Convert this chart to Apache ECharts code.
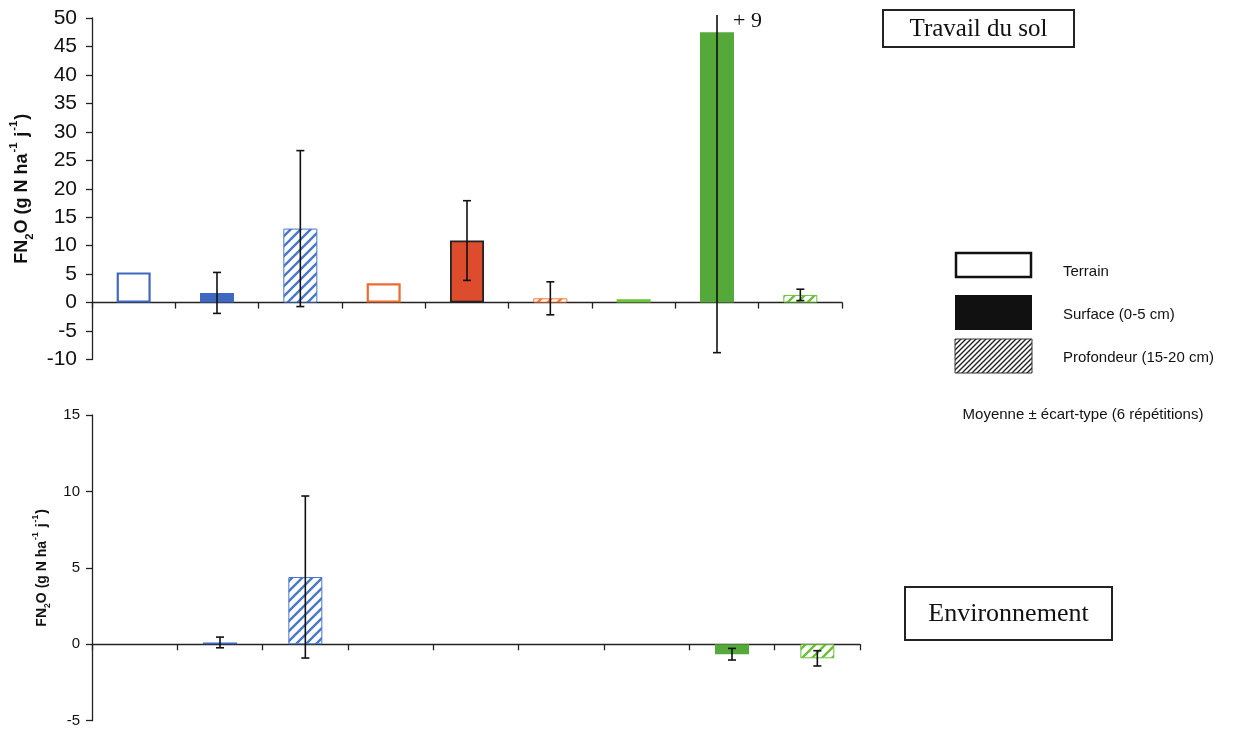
<!DOCTYPE html>
<html>
<head>
<meta charset="utf-8">
<script src="https://cdn.jsdelivr.net/npm/echarts@6/dist/echarts.min.js"></script>
<style>html,body{margin:0;padding:0;background:#fff;}#c{width:1238px;height:729px;}</style>
</head>
<body>
<div id="c"></div>
<script>
// ---- data ----
var categories = ['Terrain A', 'Surface A', 'Profondeur A', 'Terrain B', 'Surface B', 'Profondeur B', 'Terrain C', 'Surface C', 'Profondeur C'];
var topValues = [5.3, 1.7, 13.0, 3.4, 10.9, 0.75, 0.6, 47.5, 1.35];
var topSd = [null, 3.6, 13.7, null, 7.0, 2.9, null, 56.3, 1.0];
var bottomValues = [null, 0.12, 4.4, null, null, null, null, -0.65, -0.92];
var bottomSd = [null, 0.35, 5.3, null, null, null, null, 0.38, 0.5];
var topTicks = [-10, -5, 0, 5, 10, 15, 20, 25, 30, 35, 40, 45, 50];
var bottomTicks = [-5, 0, 5, 10, 15];
var kinds = ['terrain', 'surface', 'profondeur', 'terrain', 'surface', 'profondeur', 'terrain', 'surface', 'profondeur'];
var siteColors = ['#3f68c0', '#3f68c0', '#4a78c8', '#ef6a2c', '#dd4c2c', '#ef7a3a', '#6cc23a', '#55a83a', '#6cbf3a'];
var topOverflowLabel = '+ 9';

function hatch(color, size, lw) {
  var c = document.createElement('canvas');
  c.width = size; c.height = size;
  var g = c.getContext('2d');
  g.fillStyle = '#fff'; g.fillRect(0, 0, size, size);
  g.strokeStyle = color; g.lineWidth = lw; g.lineCap = 'square';
  g.beginPath();
  g.moveTo(-1, size + 1); g.lineTo(size + 1, -1);
  g.moveTo(-size / 2 - 1, size / 2 + 1); g.lineTo(size / 2 + 1, -size / 2 - 1);
  g.moveTo(size / 2 - 1, size * 1.5 + 1); g.lineTo(size * 1.5 + 1, size / 2 - 1);
  g.stroke();
  return c;
}

function styleFor(i) {
  var k = kinds[i], col = siteColors[i];
  if (k === 'terrain') return { color: '#fff', borderColor: col, borderWidth: 2.2 };
  if (k === 'surface') {
    if (i === 4) return { color: col, borderColor: '#222', borderWidth: 1.8 };
    return { color: col, borderColor: col, borderWidth: 0 };
  }
  return { color: { image: hatch(col, 10, 2.4), repeat: 'repeat' }, borderColor: col, borderWidth: 1 };
}

function barData(vals) {
  return vals.map(function (v, i) { return v == null ? '-' : { value: v, itemStyle: styleFor(i) }; });
}
function errData(vals, sds) {
  var out = [];
  vals.forEach(function (v, i) { if (v != null && sds[i] != null) out.push([i, v - sds[i], v + sds[i]]); });
  return out;
}

function makeErr(gridIdx, yMax) {
  return {
    type: 'custom', xAxisIndex: gridIdx, yAxisIndex: gridIdx, clip: false, z: 5,
    data: errData(gridIdx === 0 ? topValues : bottomValues, gridIdx === 0 ? topSd : bottomSd),
    renderItem: function (params, api) {
      var x = api.value(0), lo = api.value(1), hi = api.value(2);
      var clipped = hi > yMax;
      var pLo = api.coord([x, lo]);
      var pHi = api.coord([x, clipped ? yMax : hi]);
      var cap = 4;
      var st = { stroke: '#111', lineWidth: 1.6 };
      var ch = [
        { type: 'line', shape: { x1: pLo[0], y1: pLo[1], x2: pHi[0], y2: clipped ? pHi[1] - 3 : pHi[1] }, style: st },
        { type: 'line', shape: { x1: pLo[0] - cap, y1: pLo[1], x2: pLo[0] + cap, y2: pLo[1] }, style: st }
      ];
      if (!clipped) ch.push({ type: 'line', shape: { x1: pHi[0] - cap, y1: pHi[1], x2: pHi[0] + cap, y2: pHi[1] }, style: st });
      return { type: 'group', children: ch };
    }
  };
}

var axisName = '{b|FN}{sub|2}{b|O (g N ha}{sup|-1}{b| j}{sup|-1}{b|)}';
function nameRich(fs) {
  return {
    b: { fontFamily: 'Liberation Sans', fontWeight: 'bold', fontSize: fs, color: '#111', lineHeight: fs * 1.5 },
    sub: { fontFamily: 'Liberation Sans', fontWeight: 'bold', fontSize: fs * 0.62, color: '#111', lineHeight: fs * 1.5, verticalAlign: 'bottom' },
    sup: { fontFamily: 'Liberation Sans', fontWeight: 'bold', fontSize: fs * 0.62, color: '#111', lineHeight: fs * 1.5, verticalAlign: 'top', padding: [0, 1, 0, 1] }
  };
}

var legendHatch = hatch('#222', 5, 1.4);

var chart = echarts.init(document.getElementById('c'), null, { renderer: 'canvas' });
chart.setOption({
  backgroundColor: '#ffffff',
  animation: false,
  grid: [
    { left: 92, right: 396, top: 18, bottom: 369.5, containLabel: false, outerBoundsMode: 'none' },
    { left: 92, right: 378, top: 415, bottom: 8.3, containLabel: false, outerBoundsMode: 'none' }
  ],
  xAxis: [0, 1].map(function (g) {
    return {
      type: 'category', gridIndex: g, data: categories,
      axisLine: { onZero: true, lineStyle: { color: '#222', width: 1.3 } },
      axisTick: { show: true, inside: false, interval: 0, length: 6, lineStyle: { color: '#222', width: 1.3 } },
      axisLabel: { show: false, interval: 0 }, splitLine: { show: false }
    };
  }),
  yAxis: [
    {
      type: 'value', gridIndex: 0, min: topTicks[0], max: topTicks[topTicks.length - 1], interval: 5,
      axisLine: { show: true, lineStyle: { color: '#222', width: 1.3 } },
      axisTick: { show: true, length: 6, lineStyle: { color: '#222', width: 1.3 } },
      axisLabel: { fontFamily: 'Liberation Sans', fontSize: 21, color: '#111', margin: 15 },
      splitLine: { show: false },
      name: axisName, nameLocation: 'middle', nameGap: 50, nameRotate: 90,
      nameTextStyle: { rich: nameRich(18) }
    },
    {
      type: 'value', gridIndex: 1, min: bottomTicks[0], max: bottomTicks[bottomTicks.length - 1], interval: 5,
      axisLine: { show: true, lineStyle: { color: '#222', width: 1.3 } },
      axisTick: { show: true, length: 6, lineStyle: { color: '#222', width: 1.3 } },
      axisLabel: { fontFamily: 'Liberation Sans', fontSize: 15, color: '#111', margin: 12 },
      splitLine: { show: false },
      name: axisName, nameLocation: 'middle', nameGap: 30, nameRotate: 90,
      nameTextStyle: { rich: nameRich(14) }
    }
  ],
  series: [
    { type: 'bar', xAxisIndex: 0, yAxisIndex: 0, barWidth: 34, data: barData(topValues) },
    { type: 'bar', xAxisIndex: 1, yAxisIndex: 1, barWidth: 34, data: barData(bottomValues) },
    makeErr(0, topTicks[topTicks.length - 1]),
    makeErr(1, bottomTicks[bottomTicks.length - 1])
  ],
  graphic: [
    { type: 'text', left: 733, top: 10, style: { text: topOverflowLabel, font: '22px "Liberation Serif"', fill: '#111' } },
    { type: 'rect', shape: { x: 883, y: 10, width: 191, height: 37 }, style: { fill: '#fff', stroke: '#222', lineWidth: 2 } },
    { type: 'text', x: 978.5, y: 29, style: { text: 'Travail du sol', font: '25px "Liberation Serif"', fill: '#111', align: 'center', verticalAlign: 'middle' } },
    { type: 'rect', shape: { x: 905, y: 587, width: 207, height: 53 }, style: { fill: '#fff', stroke: '#222', lineWidth: 2 } },
    { type: 'text', x: 1008.5, y: 614, style: { text: 'Environnement', font: '26px "Liberation Serif"', fill: '#111', align: 'center', verticalAlign: 'middle' } },
    { type: 'rect', shape: { x: 956, y: 253, width: 75, height: 24 }, style: { fill: '#fff', stroke: '#111', lineWidth: 2.5 } },
    { type: 'rect', shape: { x: 955, y: 295, width: 77, height: 35 }, style: { fill: '#111' } },
    { type: 'rect', shape: { x: 955, y: 339, width: 77, height: 34 }, style: { fill: { image: legendHatch, repeat: 'repeat' }, stroke: '#333', lineWidth: 1 } },
    { type: 'text', x: 1063, y: 272, style: { text: 'Terrain', font: '15px "Liberation Sans"', fill: '#111', verticalAlign: 'middle' } },
    { type: 'text', x: 1063, y: 315, style: { text: 'Surface (0-5 cm)', font: '15px "Liberation Sans"', fill: '#111', verticalAlign: 'middle' } },
    { type: 'text', x: 1063, y: 358, style: { text: 'Profondeur (15-20 cm)', font: '15px "Liberation Sans"', fill: '#111', verticalAlign: 'middle' } },
    { type: 'text', x: 1083, y: 415, style: { text: 'Moyenne ± écart-type (6 répétitions)', font: '15px "Liberation Sans"', fill: '#111', align: 'center', verticalAlign: 'middle' } }
  ]
});
</script>
</body>
</html>
